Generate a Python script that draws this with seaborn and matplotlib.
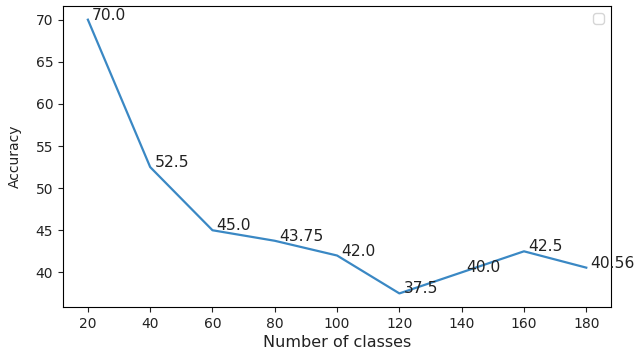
import matplotlib
matplotlib.use("Agg")
import matplotlib.pyplot as plt
import seaborn as sns
import pandas as pd

num_classes = [20, 40, 60, 80, 100, 120, 140, 160, 180]
accuracy = [70.0, 52.5, 45.0, 43.75, 42.0, 37.5, 40.0, 42.5, 40.56]
labels = ["70.0", "52.5", "45.0", "43.75", "42.0", "37.5", "40.0", "42.5", "40.56"]

df = pd.DataFrame({"Number of classes": num_classes, "Accuracy": accuracy})

plt.rcParams["font.family"] = ["DejaVu Sans"]
fig = plt.figure(figsize=(6.36, 3.53), dpi=100)
ax = fig.add_axes([0.099, 0.130, 0.862, 0.853])
sns.lineplot(data=df, x="Number of classes", y="Accuracy", ax=ax, color="#3a88c4", linewidth=1.6)
for x, y, t in zip(num_classes, accuracy, labels):
    ax.annotate(t, (x, y), xytext=(3, 0), textcoords="offset points",
                fontsize=11.2, color="#222222")
ax.set_xticks(num_classes)
ax.set_yticks([40, 45, 50, 55, 60, 65, 70])
ax.tick_params(labelsize=10, colors="#222222")
ax.set_xlabel("Number of classes", fontsize=11.5, color="#222222", labelpad=3)
ax.set_ylabel("Accuracy", fontsize=10, color="#222222", labelpad=10)
ax.legend(handles=[], loc="upper right")
fig.savefig("out.png", dpi=100)
